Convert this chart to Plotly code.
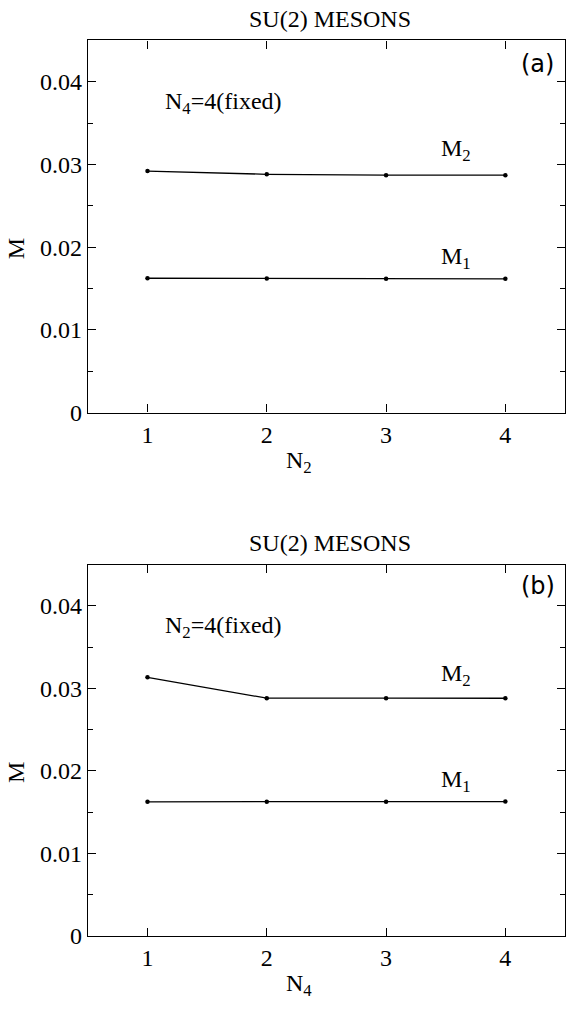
import plotly.graph_objects as go

# ---- data ----
n_values = [1, 2, 3, 4]
m1_a = [0.01625, 0.01621, 0.01618, 0.01618]
m2_a = [0.02921, 0.02882, 0.02871, 0.02871]
m1_b = [0.01625, 0.01625, 0.01626, 0.01628]
m2_b = [0.03134, 0.02881, 0.02881, 0.02880]
y_tick_vals = [0, 0.01, 0.02, 0.03, 0.04]
y_tick_text = ["0", "0.01", "0.02", "0.03", "0.04"]
x_tick_vals = [1, 2, 3, 4]
x_tick_text = ["1", "2", "3", "4"]

W, H = 566, 1012
SERIF = "Liberation Serif"

def px_to_paper_y(p):
    return 1 - p / H

fig = go.Figure()

line_style = dict(color="black", width=1.3)
marker_style = dict(color="black", size=4.5)

for ys, xa, ya in [(m1_a, "x", "y"), (m2_a, "x", "y"), (m1_b, "x2", "y2"), (m2_b, "x2", "y2")]:
    fig.add_trace(go.Scatter(x=n_values, y=ys, mode="lines+markers", line=line_style,
                             marker=marker_style, xaxis=xa, yaxis=ya, showlegend=False))

xdom = [88 / W, 566 / W]
ydom_a = [px_to_paper_y(418), px_to_paper_y(41)]
ydom_b = [px_to_paper_y(948), px_to_paper_y(572)]

xaxis_common = dict(range=[0.5, 4.5], tickvals=x_tick_vals, ticktext=x_tick_text,
                    ticks="inside", ticklen=8, tickwidth=1, tickcolor="black",
                    mirror="allticks", showline=True, linecolor="black", linewidth=1.3,
                    showgrid=False, zeroline=False,
                    tickfont=dict(family=SERIF, size=24, color="black"), domain=xdom)
yaxis_common = dict(range=[0, 0.045], tickvals=y_tick_vals, ticktext=y_tick_text,
                    ticks="inside", ticklen=8, tickwidth=1, tickcolor="black",
                    mirror="allticks", showline=True, linecolor="black", linewidth=1.3,
                    showgrid=False, zeroline=False,
                    minor=dict(dtick=0.005, ticks="inside", ticklen=5, tickcolor="black", tickwidth=1),
                    tickfont=dict(family=SERIF, size=24, color="black"))

fig.update_layout(
    width=W, height=H,
    margin=dict(l=0, r=0, t=0, b=0),
    paper_bgcolor="white", plot_bgcolor="white",
    xaxis=dict(**xaxis_common, anchor="y"),
    yaxis=dict(**yaxis_common, domain=ydom_a, anchor="x"),
    xaxis2=dict(**xaxis_common, anchor="y2"),
    yaxis2=dict(**yaxis_common, domain=ydom_b, anchor="x2"),
)

ann = []
txt = dict(family=SERIF, size=24, color="black")
for (top, bottom, xl, fixed, tag, xr, yr, m2y, m1y, tagy) in [
    (41, 418, "N<sub>2</sub>", "N<sub>4</sub>=4(fixed)", "(a)", "x", "y", 0.0318, 0.0187, 0.0422),
    (572, 948, "N<sub>4</sub>", "N<sub>2</sub>=4(fixed)", "(b)", "x2", "y2", 0.0316, 0.0188, 0.0424),
]:
    ann.append(dict(text="SU(2) MESONS", x=331 / W, y=px_to_paper_y(top - 22), xref="paper", yref="paper",
                    showarrow=False, font=txt, xanchor="center", yanchor="middle"))
    ann.append(dict(text="M", x=16 / W, y=px_to_paper_y((top + bottom) / 2 + 22), xref="paper", yref="paper",
                    showarrow=False, font=txt, textangle=-90, xanchor="center", yanchor="middle"))
    ann.append(dict(text=xl, x=300 / W, y=px_to_paper_y(bottom + 50), xref="paper", yref="paper",
                    showarrow=False, font=txt, xanchor="center", yanchor="middle"))
    ann.append(dict(text=fixed, x=1.13, y=0.0374, xref=xr, yref=yr, showarrow=False, font=txt,
                    xanchor="left", yanchor="middle"))
    ann.append(dict(text=tag, x=4.27, y=tagy, xref=xr, yref=yr, showarrow=False,
                    font=dict(family="DejaVu Sans", size=24, color="black"), xanchor="center", yanchor="middle"))
    ann.append(dict(text="M<sub>2</sub>", x=3.59, y=m2y, xref=xr, yref=yr, showarrow=False,
                    font=txt, xanchor="center", yanchor="middle"))
    ann.append(dict(text="M<sub>1</sub>", x=3.59, y=m1y, xref=xr, yref=yr, showarrow=False,
                    font=txt, xanchor="center", yanchor="middle"))

fig.update_layout(annotations=ann)
fig.write_html("out.html")
